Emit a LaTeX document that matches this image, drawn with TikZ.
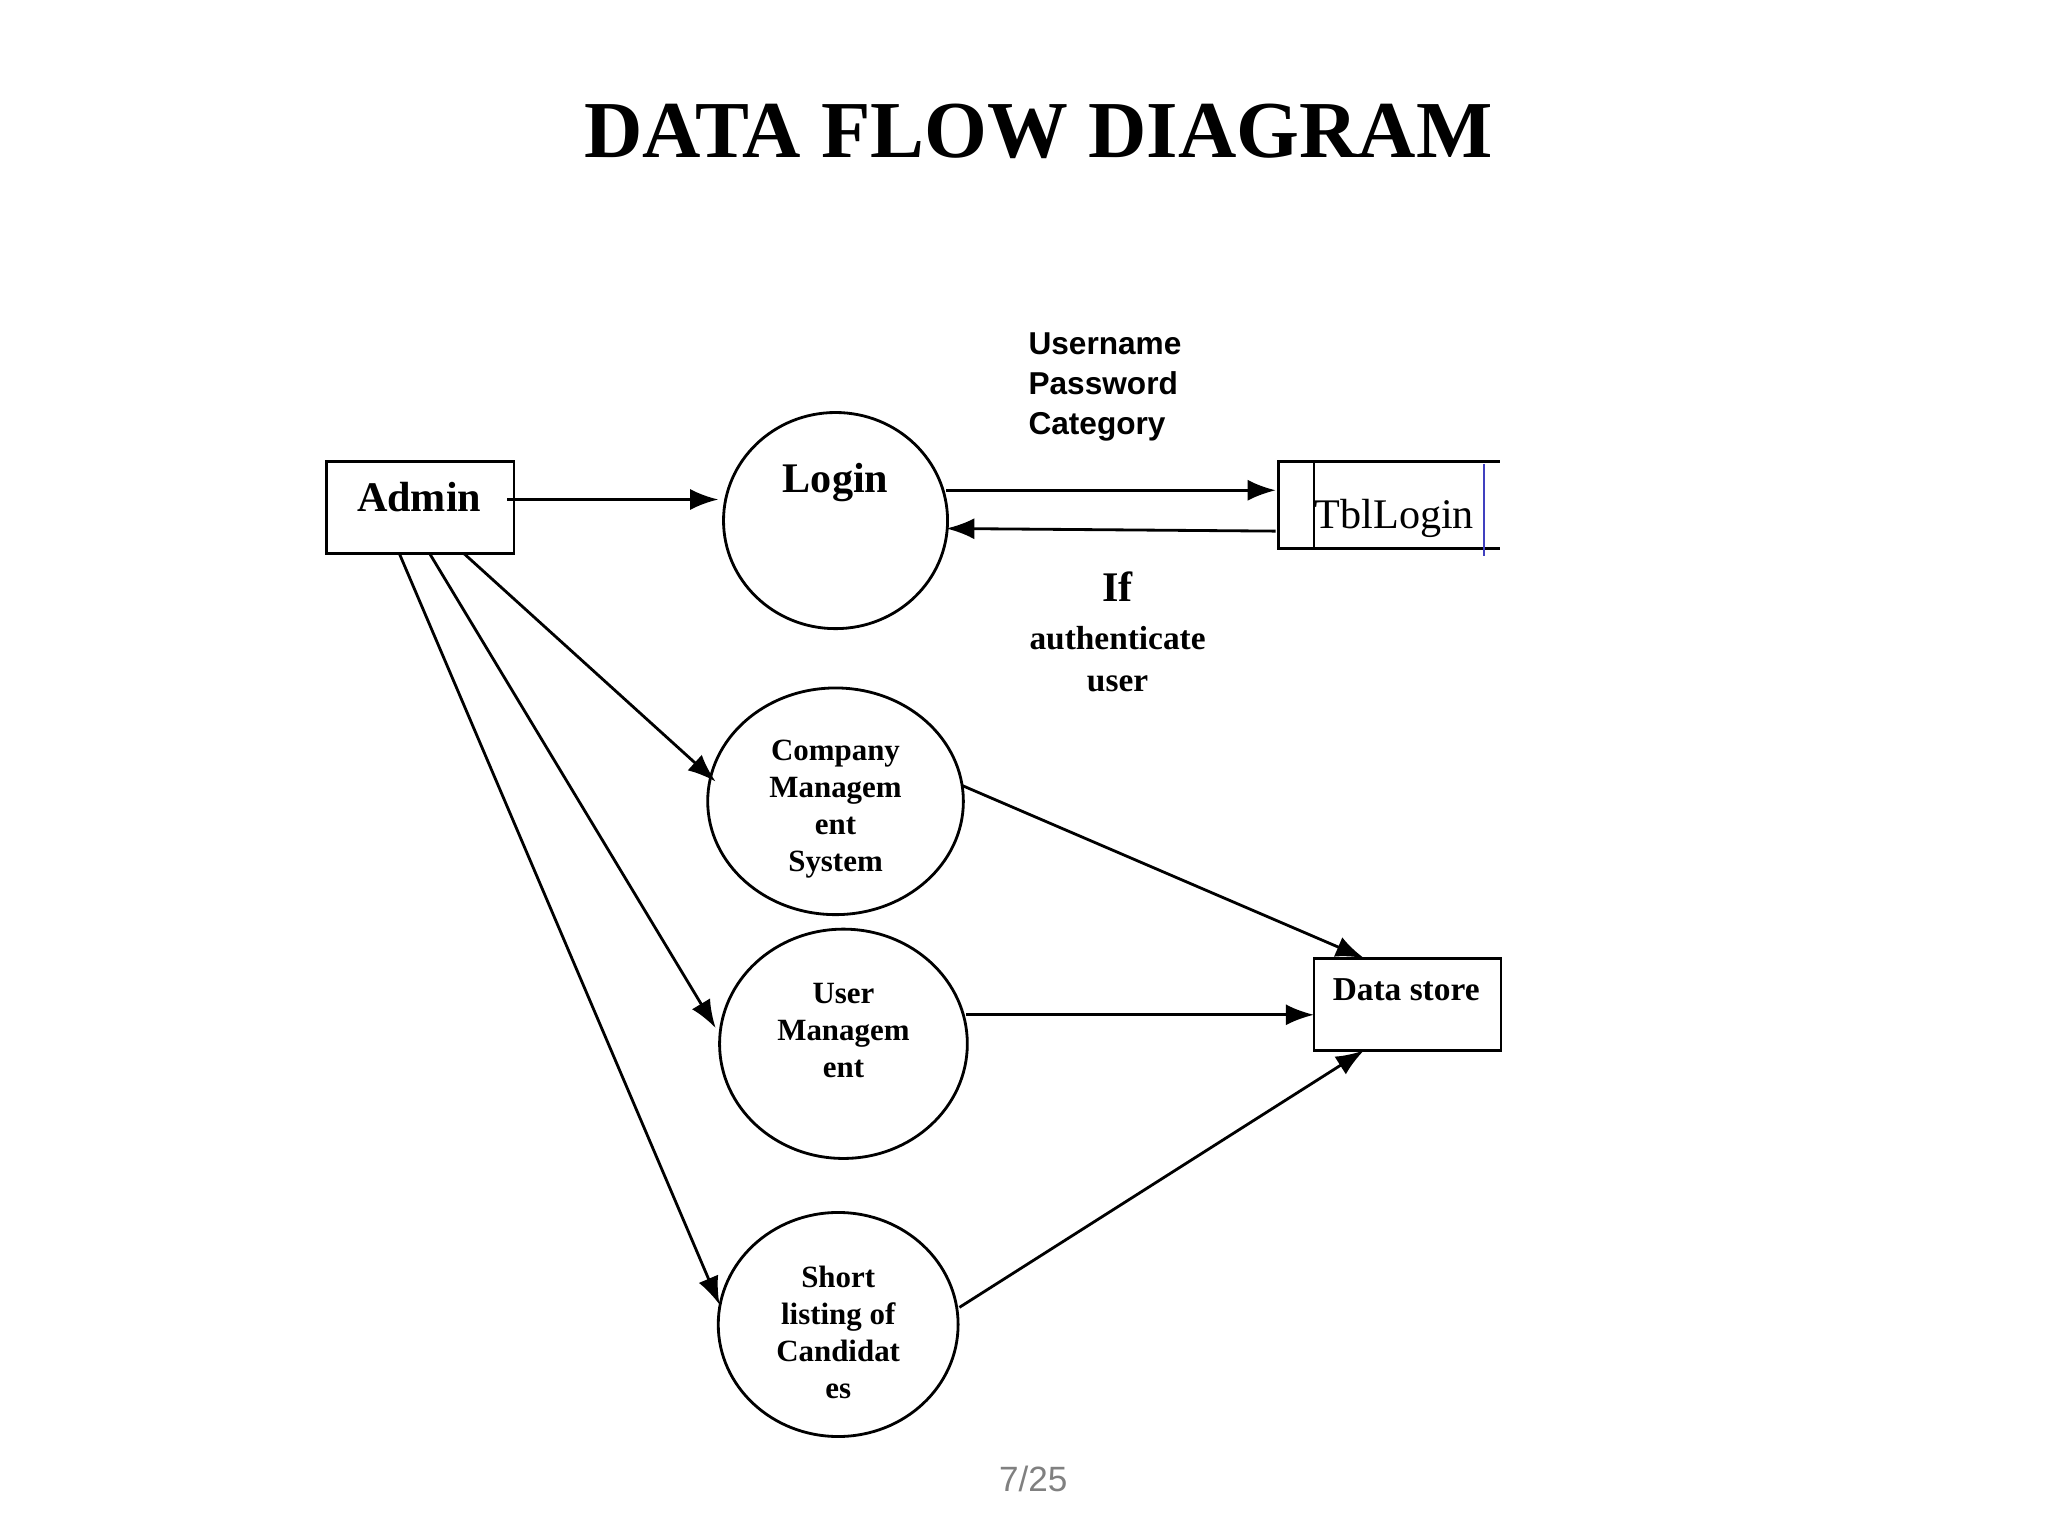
\documentclass[tikz,border=0pt]{standalone}
\usepackage{fontspec}
\setmainfont{Liberation Serif}
\newfontfamily\lsans{Liberation Sans}
\usetikzlibrary{shapes.geometric,arrows.meta}
\begin{document}
\begin{tikzpicture}[x=0.01318cm,y=-0.01318cm,
  proc/.style={draw,thick,ellipse,inner sep=0pt},
  lbl/.style={font=\bfseries\fontsize{8.8}{10.6}\selectfont,align=center},
  flow/.style={thick,-{Latex[length=8pt,width=6pt]}},
  ent/.style={draw,thick,rectangle}]
\useasboundingbox (0,0) rectangle (1554,1165);
\node[font=\bfseries\fontsize{23}{26}\selectfont] (title) at (788,100) {DATA FLOW DIAGRAM};
% Admin
\node[ent,minimum width=142*0.01318cm,minimum height=70*0.01318cm] (admin) at (319,385) {};
\node[font=\bfseries\fontsize{12}{14}\selectfont] (admint) at (318,377) {Admin};
% Login
\node[proc,minimum width=170*0.01318cm,minimum height=164*0.01318cm] (login) at (634,395) {};
\node[font=\bfseries\fontsize{12}{14}\selectfont] (logint) at (634,366) {Login};
% labels
\node[font=\lsans\bfseries\fontsize{9}{11.4}\selectfont,align=left,anchor=north west] (cred) at (771,243) {Username\\Password\\Category};
\node[font=\bfseries\fontsize{12}{14}\selectfont] (ift) at (848,445) {If};
\node[lbl,font=\bfseries\fontsize{9.5}{11.8}\selectfont] (auth) at (848,500) {authenticate\\user};
% TblLogin
\coordinate (t1) at (970,350); \coordinate (t2) at (1138,350);
\coordinate (b1) at (970,416); \coordinate (b2) at (1138,416);
\coordinate (v1) at (997,350); \coordinate (v2) at (997,416);
\draw[thick] (t2) -- (t1) -- (b1) -- (b2);
\draw[thick] (v1) -- (v2);
\coordinate (bl1) at (1126,352); \coordinate (bl2) at (1126,422);
\draw[thick,blue!50!gray] (bl1) -- (bl2);
\node[font=\fontsize{12}{14}\selectfont] (tbl) at (1058,393) {TblLogin};
% processes
\node[proc,minimum width=194*0.01318cm,minimum height=172*0.01318cm] (comp) at (634,608) {};
\node[lbl] (compt) at (634,614) {Company\\Managem\\ent\\System};
\node[proc,minimum width=188*0.01318cm,minimum height=174*0.01318cm] (user) at (640,792) {};
\node[lbl] (usert) at (640,782) {User\\Managem\\ent};
\node[proc,minimum width=182*0.01318cm,minimum height=170*0.01318cm] (short) at (636,1005) {};
\node[lbl] (shortt) at (636,1011) {Short\\listing of\\Candidat\\es};
% Data store
\node[ent,minimum width=142*0.01318cm,minimum height=70*0.01318cm] (ds) at (1068,762) {};
\node[lbl,font=\bfseries\fontsize{9.5}{11.8}\selectfont] (dst) at (1067,751) {Data store};
% coordinates for flows
\coordinate (a0) at (385,379); \coordinate (l0) at (545,379);
\coordinate (l1) at (718,372); \coordinate (tb1) at (968,372);
\coordinate (tb2) at (968,403); \coordinate (l2) at (718,401);
\coordinate (a1) at (352,420); \coordinate (c1) at (543,593);
\coordinate (a2) at (326,420); \coordinate (u1) at (543,780);
\coordinate (a3) at (303,420); \coordinate (s1) at (546,990);
\coordinate (c2) at (730,596); \coordinate (d1) at (1035,727);
\coordinate (u2) at (733,770); \coordinate (d2) at (997,770);
\coordinate (s2) at (728,992); \coordinate (d3) at (1035,797);
\draw[flow] (a0) -- (l0);
\draw[flow] (l1) -- (tb1);
\draw[flow] (tb2) -- (l2);
\draw[flow] (a1) -- (c1);
\draw[flow] (a2) -- (u1);
\draw[flow] (a3) -- (s1);
\draw[flow] (c2) -- (d1);
\draw[flow] (u2) -- (d2);
\draw[flow] (s2) -- (d3);
\node[font=\lsans\fontsize{10}{12}\selectfont,text=gray] (pg) at (784,1122) {7/25};
\end{tikzpicture}
\end{document}
